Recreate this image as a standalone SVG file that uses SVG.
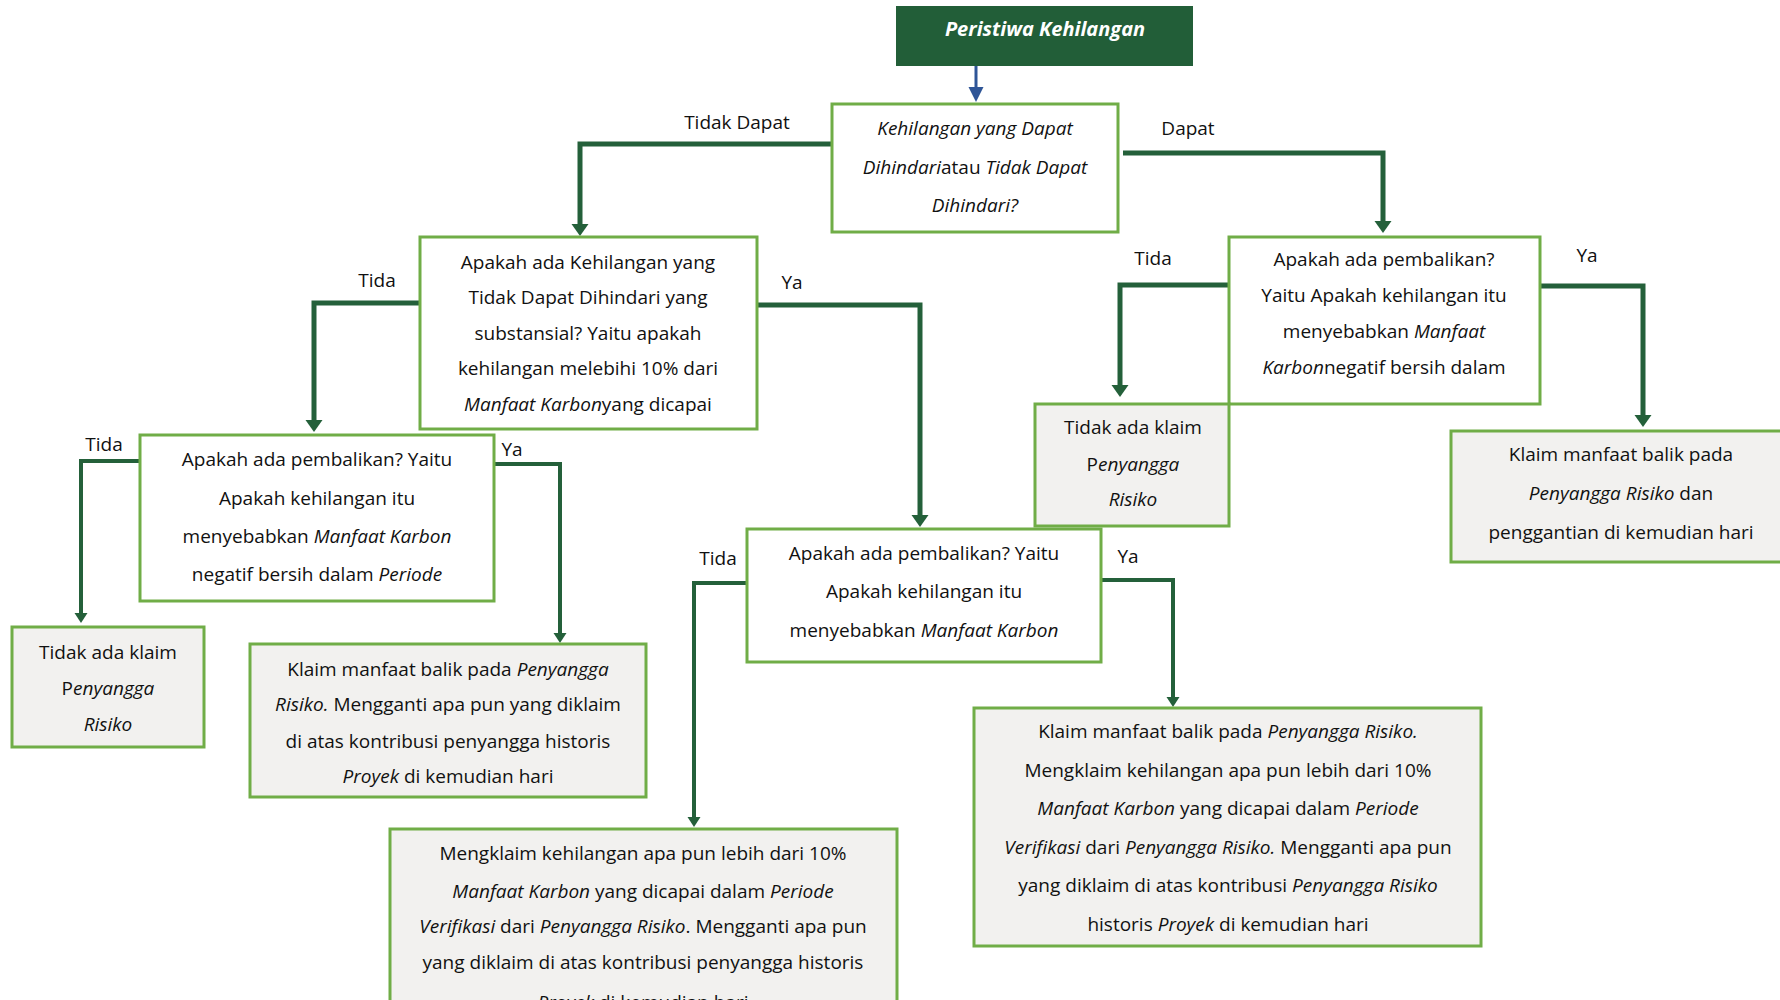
<svg xmlns="http://www.w3.org/2000/svg" width="1780" height="1000" viewBox="0 0 1780 1000">
<style>
.box{fill:#ffffff;stroke:#70AD47;stroke-width:3}
.gray{fill:#F2F1EF}
.top{fill:#225E38}
.t{font-family:"Open Sans","Noto Sans",sans-serif;font-size:19px;fill:#111111;text-anchor:middle}
.lbl{font-family:"Open Sans","Noto Sans",sans-serif;font-size:19px;fill:#111111;text-anchor:middle}
.i{font-style:italic}
.title{font-family:"Open Sans","Noto Sans",sans-serif;font-size:20px;font-weight:bold;font-style:italic;fill:#ffffff;text-anchor:middle}
.conn{fill:none;stroke:#24603A;stroke-width:5}
.conn2{fill:none;stroke:#24603A;stroke-width:4}
.blue{fill:none;stroke:#2F5597;stroke-width:3}
</style>
<defs>
<marker id="ah" markerUnits="userSpaceOnUse" markerWidth="14" markerHeight="18" refX="6" refY="8.5" orient="auto" viewBox="0 0 14 18"><path d="M0,0 L12,8.5 L0,17 z" fill="#24603A"/></marker>
<marker id="ahs" markerUnits="userSpaceOnUse" markerWidth="12" markerHeight="14" refX="5" refY="6.5" orient="auto" viewBox="0 0 12 14"><path d="M0,0 L10,6.5 L0,13 z" fill="#24603A"/></marker>
<marker id="ahb" markerUnits="userSpaceOnUse" markerWidth="16" markerHeight="16" refX="8" refY="7.5" orient="auto" viewBox="0 0 16 16"><path d="M0,0 L15,7.5 L0,15 z" fill="#2F5597"/></marker>
</defs>

<g id="connectors">
<path class="blue" d="M976,66 V95" marker-end="url(#ahb)"/>
<path class="conn" d="M832,144 H580 V230" marker-end="url(#ah)"/>
<path class="conn" d="M1123,153 H1383 V227" marker-end="url(#ah)"/>
<path class="conn" d="M420,303 H314 V426" marker-end="url(#ah)"/>
<path class="conn" d="M757,305 H920 V521" marker-end="url(#ah)"/>
<path class="conn" d="M1229,285 H1120 V391" marker-end="url(#ah)"/>
<path class="conn" d="M1540,286 H1643 V421" marker-end="url(#ah)"/>
<path class="conn2" d="M140,461 H81 V618" marker-end="url(#ahs)"/>
<path class="conn2" d="M494,464 H560 V638" marker-end="url(#ahs)"/>
<path class="conn2" d="M747,583 H694 V822" marker-end="url(#ahs)"/>
<path class="conn2" d="M1101,580 H1173 V702" marker-end="url(#ahs)"/>
<text class="lbl" x="737" y="129">Tidak Dapat</text>
<text class="lbl" x="1188" y="135">Dapat</text>
<text class="lbl" x="1153" y="265">Tida</text>
<text class="lbl" x="1587" y="262">Ya</text>
<text class="lbl" x="377" y="287">Tida</text>
<text class="lbl" x="792" y="289">Ya</text>
<text class="lbl" x="104" y="451">Tida</text>
<text class="lbl" x="512" y="456">Ya</text>
<text class="lbl" x="718" y="565">Tida</text>
<text class="lbl" x="1128" y="563">Ya</text>
</g>

<g id="start">
<rect class="top" x="896" y="6" width="297" height="60"/>
<text class="title" x="1045" y="36">Peristiwa Kehilangan</text>
</g>

<g id="q1">
<rect class="box" x="832" y="104" width="286" height="128"/>
<text class="t" x="975" y="135"><tspan class="i">Kehilangan yang Dapat</tspan></text>
<text class="t" x="975" y="174"><tspan class="i">Dihindari</tspan>atau  <tspan class="i">Tidak Dapat</tspan></text>
<text class="t" x="975" y="212"><tspan class="i">Dihindari?</tspan></text>
</g>

<g id="q2-left">
<rect class="box" x="420" y="237" width="337" height="192"/>
<text class="t" x="588" y="269">Apakah ada Kehilangan yang</text>
<text class="t" x="588" y="304">Tidak Dapat Dihindari yang</text>
<text class="t" x="588" y="340">substansial? Yaitu apakah</text>
<text class="t" x="588" y="375">kehilangan melebihi 10% dari</text>
<text class="t" x="588" y="411"><tspan class="i">Manfaat Karbon</tspan>yang dicapai</text>
</g>

<g id="q2-right">
<rect class="box" x="1229" y="237" width="311" height="167"/>
<text class="t" x="1384" y="266">Apakah ada pembalikan?</text>
<text class="t" x="1384" y="302">Yaitu Apakah kehilangan itu</text>
<text class="t" x="1384" y="338">menyebabkan <tspan class="i">Manfaat</tspan></text>
<text class="t" x="1384" y="374"><tspan class="i">Karbon</tspan>negatif bersih dalam</text>
</g>

<g id="no-claim-right">
<rect class="box gray" x="1035" y="404" width="194" height="122"/>
<text class="t" x="1133" y="434">Tidak ada klaim</text>
<text class="t" x="1133" y="471">P<tspan class="i">enyangga</tspan></text>
<text class="t" x="1133" y="506"><tspan class="i">Risiko</tspan></text>
</g>

<g id="claim-right">
<rect class="box gray" x="1451" y="431" width="341" height="131"/>
<text class="t" x="1621" y="461">Klaim manfaat balik pada</text>
<text class="t" x="1621" y="500"><tspan class="i">Penyangga Risiko</tspan> dan</text>
<text class="t" x="1621" y="539">penggantian di kemudian hari</text>
</g>

<g id="q3-left">
<rect class="box" x="140" y="435" width="354" height="166"/>
<text class="t" x="317" y="466">Apakah ada pembalikan? Yaitu</text>
<text class="t" x="317" y="505">Apakah kehilangan itu</text>
<text class="t" x="317" y="543">menyebabkan <tspan class="i">Manfaat Karbon</tspan></text>
<text class="t" x="317" y="581">negatif bersih dalam <tspan class="i">Periode</tspan></text>
</g>

<g id="no-claim-left">
<rect class="box gray" x="12" y="627" width="192" height="120"/>
<text class="t" x="108" y="659">Tidak ada klaim</text>
<text class="t" x="108" y="695">P<tspan class="i">enyangga</tspan></text>
<text class="t" x="108" y="731"><tspan class="i">Risiko</tspan></text>
</g>

<g id="claim-left">
<rect class="box gray" x="250" y="644" width="396" height="153"/>
<text class="t" x="448" y="676">Klaim manfaat balik pada <tspan class="i">Penyangga</tspan></text>
<text class="t" x="448" y="711"><tspan class="i">Risiko.</tspan> Mengganti apa pun yang diklaim</text>
<text class="t" x="448" y="748">di atas kontribusi penyangga historis</text>
<text class="t" x="448" y="783"><tspan class="i">Proyek</tspan> di kemudian hari</text>
</g>

<g id="q3-mid">
<rect class="box" x="747" y="529" width="354" height="133"/>
<text class="t" x="924" y="560">Apakah ada pembalikan? Yaitu</text>
<text class="t" x="924" y="598">Apakah kehilangan itu</text>
<text class="t" x="924" y="637">menyebabkan <tspan class="i">Manfaat Karbon</tspan></text>
</g>

<g id="claim-mid">
<rect class="box gray" x="390" y="829" width="507" height="190"/>
<text class="t" x="643" y="860">Mengklaim kehilangan apa pun lebih dari 10%</text>
<text class="t" x="643" y="898"><tspan class="i">Manfaat Karbon</tspan> yang dicapai dalam <tspan class="i">Periode</tspan></text>
<text class="t" x="643" y="933"><tspan class="i">Verifikasi</tspan> dari <tspan class="i">Penyangga Risiko</tspan>. Mengganti apa pun</text>
<text class="t" x="643" y="969">yang diklaim di atas kontribusi penyangga historis</text>
<text class="t" x="643" y="1009"><tspan class="i">Proyek</tspan> di kemudian hari</text>
</g>

<g id="claim-bottom-right">
<rect class="box gray" x="974" y="708" width="507" height="238"/>
<text class="t" x="1228" y="738">Klaim manfaat balik pada <tspan class="i">Penyangga Risiko.</tspan></text>
<text class="t" x="1228" y="777">Mengklaim kehilangan apa pun lebih dari 10%</text>
<text class="t" x="1228" y="815"><tspan class="i">Manfaat Karbon</tspan> yang dicapai dalam <tspan class="i">Periode</tspan></text>
<text class="t" x="1228" y="854"><tspan class="i">Verifikasi</tspan> dari <tspan class="i">Penyangga Risiko.</tspan> Mengganti apa pun</text>
<text class="t" x="1228" y="892">yang diklaim di atas kontribusi <tspan class="i">Penyangga Risiko</tspan></text>
<text class="t" x="1228" y="931">historis <tspan class="i">Proyek</tspan> di kemudian hari</text>
</g>
</svg>
